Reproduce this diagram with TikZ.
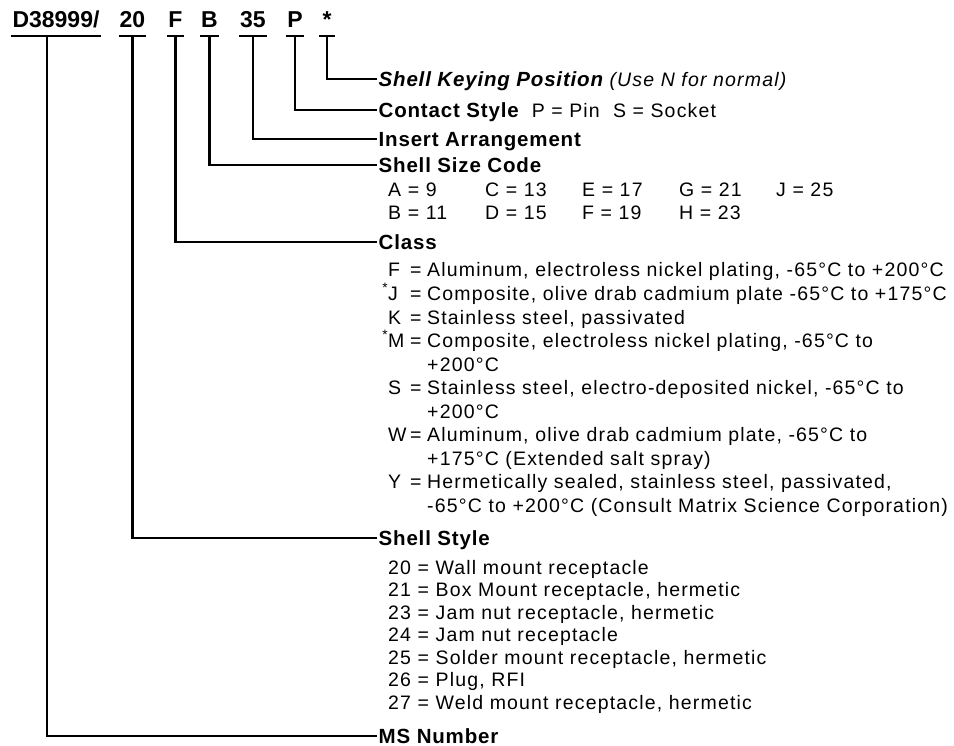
\documentclass[tikz,border=0pt]{standalone}
\usepackage{fontspec}
\setmainfont{Liberation Sans}
\newfontfamily\spaced[LetterSpace=6]{Liberation Sans}
\newfontfamily\headfont[LetterSpace=4]{Liberation Sans}
\usetikzlibrary{positioning}

% key column and continuation indent for the lists
\newcommand\ky[1]{\makebox[22pt][l]{#1}\makebox[17pt][l]{=}}
\newcommand\nx{\hspace*{39pt}}
\newcommand\st{\llap{\textsuperscript{*}}}
\newcommand\sz[1]{\makebox[97pt][l]{#1}}
\newcommand\reg[1]{{\spaced\fontsize{19.5}{23}\selectfont\mdseries #1}}

\begin{document}
\begin{tikzpicture}
    [x=1pt, y=-1pt,
    code/.style={font=\fontsize{23}{23}\selectfont\bfseries, anchor=base,
        text height=16pt, text depth=0pt, inner xsep=1pt, inner ysep=8pt},
    head/.style={font=\headfont\fontsize{20.5}{23}\selectfont\bfseries, anchor=west,
        text height=14.5pt, text depth=0pt, inner xsep=1.5pt, inner ysep=0pt},
    row/.style={font=\spaced\fontsize{19.5}{23}\selectfont, anchor=base west, inner sep=0pt},
    lead/.style={line width=2.6pt}]
    \useasboundingbox (0,0) rectangle (954,746);

    % part number
    \node [code] (ms) at (56,28) {D38999/};
    \node [code] (sty) at (132.5,28) {20};
    \node [code] (cls) at (175.5,28) {F};
    \node [code] (siz) at (209.5,28) {B};
    \node [code] (ins) at (253,28) {35};
    \node [code] (con) at (295,28) {P};
    \node [code, minimum width=15pt] (key) at (327,28) {*};
    \foreach \n in {ms,sty,cls,siz,ins,con,key}
        \draw [lead] (\n.south west) -- (\n.south east);

    % headings
    \node [head] (keyhd) at (377,79) {\itshape Shell Keying Position \reg{\itshape (Use N for normal)}};
    \node [head] (conhd) at (377,110) {Contact Style\ \ \reg{P = Pin\ \ S = Socket}};
    \node [head] (inshd) at (377,139) {Insert Arrangement};
    \node [head] (sizhd) at (377,165) {Shell Size Code};
    \node [head] (clshd) at (377,242) {Class};
    \node [head] (styhd) at (377,538) {Shell Style};
    \node [head] (mshd) at (377,736) {MS Number};

    % lists
    \node [row] (siz1) at (388,197) {\sz{A = 9}\sz{C = 13}\sz{E = 17}\sz{G = 21}J = 25};
    \node [row] (siz2) at (388,220) {\sz{B = 11}\sz{D = 15}\sz{F = 19}H = 23};
    \foreach \t [count=\i] in {
        {\ky{F}Aluminum, electroless nickel plating, -65°C to +200°C},
        {\ky{\st J}Composite, olive drab cadmium plate -65°C to +175°C},
        {\ky{K}Stainless steel, passivated},
        {\ky{\st M}Composite, electroless nickel plating, -65°C to},
        {\nx+200°C},
        {\ky{S}Stainless steel, electro-deposited nickel, -65°C to},
        {\nx+200°C},
        {\ky{W}Aluminum, olive drab cadmium plate, -65°C to},
        {\nx+175°C (Extended salt spray)},
        {\ky{Y}Hermetically sealed, stainless steel, passivated,},
        {\nx-65°C to +200°C (Consult Matrix Science Corporation)}}
        \node [row] (cls\i) at (388,{277+23.5*(\i-1)}) {\t};
    \foreach \t [count=\i] in {
        {20 = Wall mount receptacle},
        {21 = Box Mount receptacle, hermetic},
        {23 = Jam nut receptacle, hermetic},
        {24 = Jam nut receptacle},
        {25 = Solder mount receptacle, hermetic},
        {26 = Plug, RFI},
        {27 = Weld mount receptacle, hermetic}}
        \node [row] (sty\i) at (388,{574+22.5*(\i-1)}) {\t};

    % leads
    \draw [lead] (key.south) |- (keyhd.west);
    \draw [lead] (con.south) |- (conhd.west);
    \draw [lead] (ins.south) |- (inshd.west);
    \draw [lead] (siz.south) |- (sizhd.west);
    \draw [lead] (cls.south) |- (clshd.west);
    \draw [lead] (sty.south) |- (styhd.west);
    \draw [lead] ([xshift=-9pt]ms.south) |- (mshd.west);
\end{tikzpicture}
\end{document}
